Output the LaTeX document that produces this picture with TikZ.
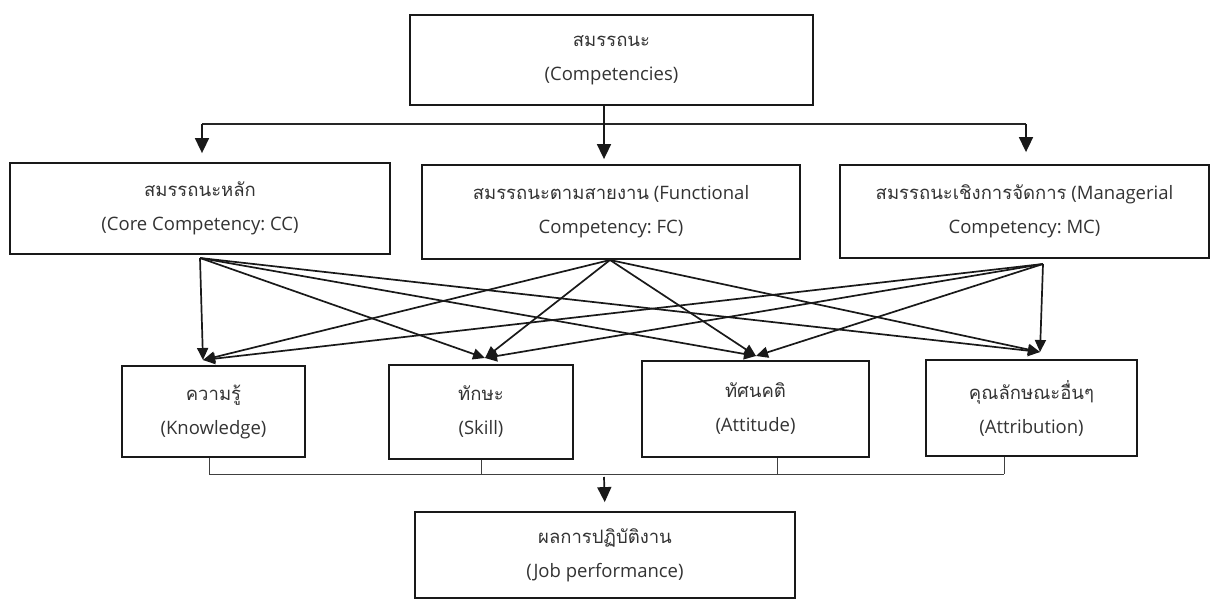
\documentclass[tikz,border=0pt]{standalone}
\usepackage{fontspec}
\setmainfont{Open Sans}
\newfontfamily\thaifont[Script=Thai]{Loma}
\usetikzlibrary{arrows.meta,positioning}
\frenchspacing

\begin{document}
\begin{tikzpicture}[x=1pt,y=-1pt,
    box/.style={draw=black!90,line width=1.8pt,align=center,inner sep=0pt,
      font=\fontsize{18.5}{34}\selectfont,text=black!80},
    link/.style={-{Triangle[length=12pt,width=11pt]},line width=1.7pt,black!90},
    down/.style={-{Triangle[length=15pt,width=14pt]},line width=1.7pt,black!90},
    bus/.style={line width=0.9pt,black!75}]
    \useasboundingbox (0,0) rectangle (1212,599);

    \node[box,minimum width=403,minimum height=90](comp) at (611.5,60){{\thaifont สมรรถนะ}\\(Competencies)};

    \node[box,minimum width=380,minimum height=91](cc) at (200,208.5){{\thaifont สมรรถนะหลัก}\\(Core Competency: CC)};
    \node[box,minimum width=378,minimum height=94](fc) at (611,212){{\thaifont สมรรถนะตามสายงาน} (Functional\\Competency: FC)};
    \node[box,minimum width=369,minimum height=93](mc) at (1024.5,211.5){{\thaifont สมรรถนะเชิงการจัดการ} (Managerial\\Competency: MC)};

    \node[box,minimum width=183,minimum height=91](kn) at (213.5,411.5){{\thaifont ความรู้}\\(Knowledge)};
    \node[box,minimum width=184,minimum height=94](sk) at (481,412){{\thaifont ทักษะ}\\(Skill)};
    \node[box,minimum width=227,minimum height=96](at) at (755.5,409){{\thaifont ทัศนคติ}\\(Attitude)};
    \node[box,minimum width=211,minimum height=96](ab) at (1031.5,408){{\thaifont คุณลักษณะอื่นๆ}\\(Attribution)};

    \node[box,minimum width=380,minimum height=86](jp) at (605,555){{\thaifont ผลการปฏิบัติงาน}\\(Job performance)};

    % split from the top box
    \coordinate (split-l) at (202,124);
    \coordinate (split-m) at (604,124);
    \coordinate (split-r) at (1026,124);
    \draw[line width=1.1pt,black!85](split-l)--(split-r);
    \draw[down,shorten >=9pt](split-l)--(split-l |- cc.north);
    \draw[down,shorten >=5pt](split-m |- comp.south)--(split-m |- fc.north);
    \draw[down,shorten >=12pt](split-r)--(split-r |- mc.north);

    % every group to every element
    \coordinate (cc-out) at (200,258);
    \coordinate (fc-out) at (610,260);
    \coordinate (mc-out) at (1043,264);
    \coordinate (kn-in) at (203,360);
    \coordinate (sk-in) at (485,358);
    \coordinate (at-in) at (756,356);
    \coordinate (ab-in) at (1040,352);
    \foreach \s in {cc,fc,mc}
      \foreach \t in {kn,sk,at,ab}
        \draw[link](\s-out)--(\t-in);

    % join into the result
    \coordinate (join) at (604,477);
    \foreach \b/\x in {kn/209,sk/481,at/777,ab/1004}
      \draw[bus](\x,0 |- \b.south)--(\x,474);
    \draw[bus](209,474)--(1004,474);
    \draw[down,shorten >=9pt](join)--(jp.north);
  \end{tikzpicture}
\end{document}
